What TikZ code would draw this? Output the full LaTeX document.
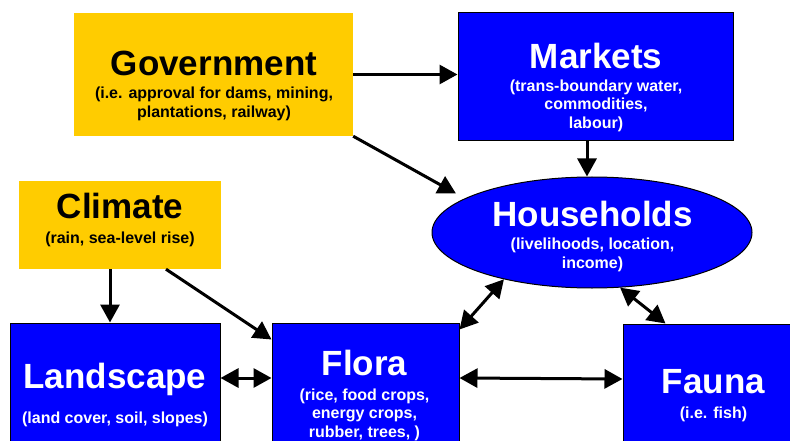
\documentclass[tikz,border=0pt]{standalone}
\usepackage{fontspec}
\setmainfont{Liberation Sans}
\usetikzlibrary{arrows.meta,shapes.geometric}

\definecolor{govyellow}{HTML}{FFCC00}
\definecolor{nodeblue}{HTML}{0000FF}
\newcommand{\headsize}{\fontsize{35}{42}\selectfont}
\newcommand{\subsize}{\fontsize{16}{18.5}\selectfont\lineskiplimit=-100pt}

\begin{document}
\begin{tikzpicture}
	 [x=1pt,y=-1pt,
	  yellowbox/.style={rectangle,fill=govyellow,inner sep=0pt},
	  bluebox/.style={rectangle,fill=nodeblue,draw=black,line width=1pt,inner sep=0pt},
	  caption/.style={anchor=base,align=center,font=\bfseries\subsize,inner sep=0pt},
	  arr/.style={line width=3pt,-{Triangle[length=18pt,width=19pt]}},
	  darr/.style={line width=3pt,{Triangle[length=18pt,width=19pt]}-{Triangle[length=18pt,width=19pt]}}]

	\useasboundingbox (0,0) rectangle (790,441);
	\clip (0,0) rectangle (790,441);

	  \node[yellowbox,minimum width=279pt,minimum height=123pt] (gov) at (213.5,74.5) {};
	  \node[bluebox,minimum width=275pt,minimum height=128pt] (markets) at (595.5,77) {};
	  \node[yellowbox,minimum width=202pt,minimum height=88pt] (climate) at (120,225) {};
	  \node[ellipse,fill=nodeblue,draw=black,line width=1pt,inner sep=0pt,
	        minimum width=320pt,minimum height=111pt] (hh) at (592,232.5) {};
	  \node[bluebox,minimum width=210pt,minimum height=140pt] (landscape) at (115,393) {};
	  \node[bluebox,minimum width=187pt,minimum height=140pt] (flora) at (365.5,393) {};
	  \node[bluebox,minimum width=181pt,minimum height=140pt] (fauna) at (713.5,394) {};

	% one-way influences
	\draw[arr] (gov.east) -- (gov.east -| markets.west);
	\draw[arr,shorten >=10pt] (gov.south east) -- (hh.165);
	\draw[arr] ([xshift=-8.5pt]markets.south) -- ([xshift=-8.5pt]markets.south |- hh.north);
	\draw[arr] ([xshift=-10pt]climate.south) -- ([xshift=-10pt]climate.south |- landscape.north);
	\draw[arr] ([xshift=46pt]climate.south) -- ([yshift=-17pt]flora.north west);

	% two-way links
	\draw[darr] ([yshift=15pt]landscape.east) -- ([yshift=15pt]flora.west);
	\draw[darr] ([yshift=15pt]flora.east) -- ([yshift=15pt]fauna.west);
	\draw[darr] ([yshift=-7pt]flora.north east) -- (hh.208);
	\draw[darr] (hh.297) -- ([xshift=43pt]fauna.north west);

	% captions sit on the baseline of their last line
	  \node[caption] (govtext) at (214,117.5)
	    {{\headsize Government}\\[4.5pt](i.e. approval for dams, mining,\\plantations, railway)};
	  \node[caption,text=white] (markettext) at (596,128.5)
	    {{\headsize Markets}\\[4.5pt](trans-boundary water,\\commodities,\\labour)};
	  \node[caption] (climatetext) at (120,243)
	    {{\headsize Climate}\\[6.5pt](rain, sea-level rise)};
	  \node[caption,text=white] (hhtext) at (592.5,268)
	    {{\headsize Households}\\[4.5pt](livelihoods, location,\\income)};
	  \node[caption,text=white] (landtext) at (115,423)
	    {{\headsize Landscape}\\[16.5pt](land cover, soil, slopes)};
	  \node[caption,text=white] (floratext) at (364.5,437)
	    {{\headsize Flora}\\[6.5pt](rice, food crops,\\energy crops,\\rubber, trees, )};
	  \node[caption,text=white] (faunatext) at (713.5,418)
	    {{\headsize Fauna}\\[6.5pt](i.e. fish)};

\end{tikzpicture}
\end{document}
